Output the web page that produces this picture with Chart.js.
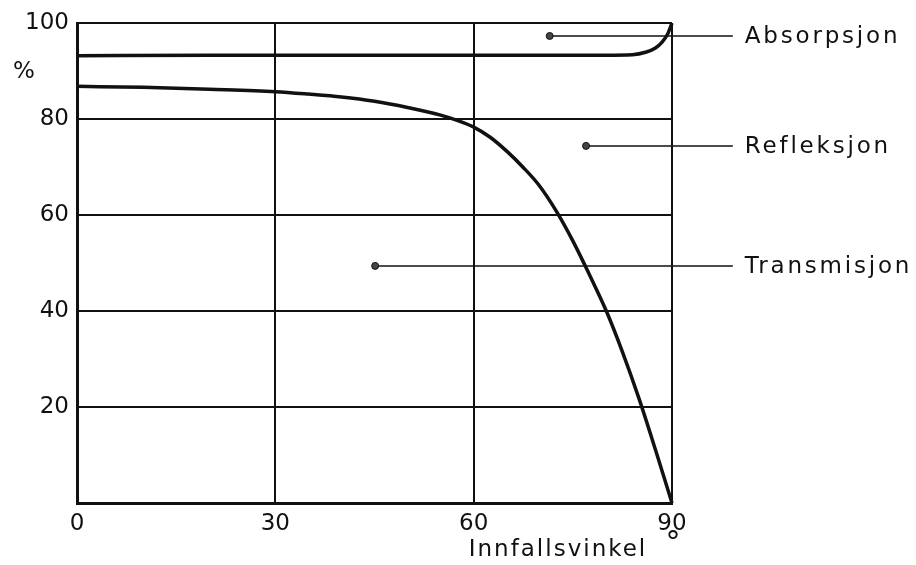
<!DOCTYPE html>
<html>
<head>
<meta charset="utf-8">
<script src="https://cdn.jsdelivr.net/npm/chart.js@4/dist/chart.umd.min.js"></script>
<style>
  html, body { margin: 0; padding: 0; background: #fff; }
  #wrap { width: 916px; height: 565px; }
</style>
</head>
<body>
<div id="wrap"><canvas id="Chart"></canvas></div>
<script>
// incidence angle (degrees) and percent values
const topAngles = [0, 20, 40, 60, 80, 84, 86, 87.5, 88.5, 89.3, 90];
const topValues = [93.2, 93.3, 93.3, 93.3, 93.3, 93.4, 93.9, 94.8, 96.0, 97.6, 100];

const transAngles = [0, 10, 20, 30, 35, 40, 45, 50, 55, 57.5, 60, 62.5, 65, 67.5, 70, 72.5, 75, 77.5, 80, 82.5, 85, 87.5, 90];
const transValues = [86.8, 86.6, 86.2, 85.7, 85.2, 84.6, 83.7, 82.4, 80.8, 79.7, 78.3, 76.2, 73.3, 69.9, 66.0, 60.8, 54.6, 47.6, 40.2, 31.5, 21.8, 11.1, 0];

const xTicks = [0, 30, 60, 90];
const yTicks = [20, 40, 60, 80, 100];

// leader labels: where the dot sits and where the leader line ends
const labelNames = ['Absorpsjon', 'Refleksjon', 'Transmisjon'];
const labelDotX = [71.5, 77.0, 45.1];
const labelY = [97.3, 74.4, 49.4];
const labelEndX = 99.2;

const ink = '#111';

function pts(xs, ys) {
    return xs.map((x, i) => ({ x: x, y: ys[i] }));
}

const leaderSets = labelNames.map((name, i) => ({
    label: name,
    data: [{ x: labelDotX[i], y: labelY[i] }, { x: labelEndX, y: labelY[i] }],
    borderColor: ink,
    borderWidth: 1.5,
    pointRadius: [3.5, 0],
    pointBackgroundColor: '#444',
    pointBorderColor: ink,
    pointBorderWidth: 1,
    clip: false,
    showLine: true
}));

const textPlugin = {
    id: 'textPlugin',
    afterDraw(chart) {
        const ctx = chart.ctx;
        const xs = chart.scales.x;
        const ys = chart.scales.y;
        ctx.save();
        ctx.fillStyle = ink;
        ctx.textBaseline = 'middle';
        ctx.font = '23px "DejaVu Sans"';
        ctx.letterSpacing = '2.8px';
        ctx.textAlign = 'left';
        labelNames.forEach((name, i) => {
            ctx.fillText(name, xs.getPixelForValue(labelEndX) + 12, ys.getPixelForValue(labelY[i]) + 1);
        });
        ctx.letterSpacing = '2px';
        ctx.textAlign = 'center';
        ctx.fillText('Innfallsvinkel', 558, 550);
        ctx.letterSpacing = '0px';
        ctx.font = '30px "DejaVu Sans"';
        ctx.fillText('°', xs.getPixelForValue(90) + 1, 544);
        ctx.font = '23px "DejaVu Sans"';
        ctx.fillText('%', 24, 72);
        ctx.restore();
    }
};

const data = {
    datasets: [
        {
            label: 'Absorpsjon/Refleksjon',
            data: pts(topAngles, topValues),
            borderColor: ink,
            borderWidth: 3.5,
            pointRadius: 0,
            cubicInterpolationMode: 'monotone',
            clip: false
        },
        {
            label: 'Transmisjon',
            data: pts(transAngles, transValues),
            borderColor: ink,
            borderWidth: 3.5,
            pointRadius: 0,
            cubicInterpolationMode: 'monotone',
            clip: false
        }
    ].concat(leaderSets)
};

const config = {
    type: 'line',
    data: data,
    options: {
        responsive: true,
        maintainAspectRatio: false,
        animation: false,
        layout: { padding: { top: 23, right: 244, left: 0, bottom: 0 } },
        plugins: {
            legend: { display: false },
            tooltip: { enabled: false }
        },
        scales: {
            x: {
                type: 'linear',
                min: 0,
                max: 90,
                afterBuildTicks: (s) => { s.ticks = xTicks.map(v => ({ value: v })); },
                afterFit: (s) => { s.height = 62; },
                ticks: {
                    color: ink,
                    font: { family: 'DejaVu Sans', size: 23 },
                    padding: 7,
                    maxRotation: 0
                },
                grid: { color: ink, lineWidth: 2, drawTicks: false },
                border: { color: ink, width: 3 }
            },
            y: {
                min: 0,
                max: 100,
                afterBuildTicks: (s) => { s.ticks = yTicks.map(v => ({ value: v })); },
                afterFit: (s) => { s.width = 77; },
                ticks: {
                    color: ink,
                    font: { family: 'DejaVu Sans', size: 23 },
                    padding: 8
                },
                grid: { color: ink, lineWidth: 2, drawTicks: false },
                border: { color: ink, width: 3 }
            }
        }
    },
    plugins: [textPlugin]
};

new Chart(document.getElementById('Chart'), config);
</script>
</body>
</html>
